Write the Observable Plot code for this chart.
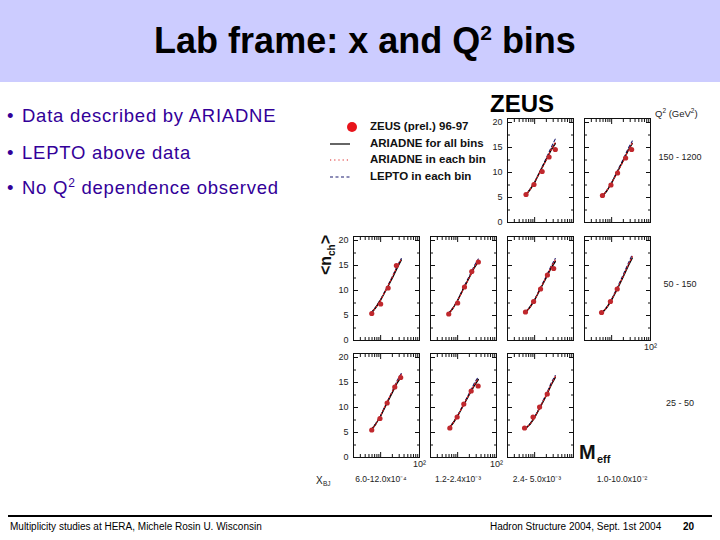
<!DOCTYPE html>
<html><head><meta charset="utf-8">
<script src="https://cdn.jsdelivr.net/npm/d3@7"></script>
<script src="https://cdn.jsdelivr.net/npm/@observablehq/plot@0.6"></script>
<style>
body{margin:0;background:#fff;}
#slide{position:relative;width:720px;height:540px;overflow:hidden;font-family:"Liberation Sans",Arial,sans-serif;background:#fff;}
.abs{position:absolute;white-space:nowrap;line-height:1;}
.panel{position:absolute;}
.bul{color:#330099;font-size:18.5px;letter-spacing:0.75px;}
.leg{font-size:11.5px;font-weight:bold;color:#111;}
.sm{font-size:9px;color:#222;}
</style></head><body><div id="slide">
<div class="abs" style="left:0;top:0;width:720px;height:82px;background:#ccccff"></div>
<div class="abs" style="left:0;width:730px;top:22.5px;text-align:center;font-size:36px;line-height:36px;font-weight:bold;color:#000">Lab frame: x and Q<span style="font-size:21px;position:relative;top:-13px">2</span> bins</div>

<div class="abs bul" style="left:7px;top:106.5px;">•</div>
<div class="abs bul" style="left:22px;top:106.5px;">Data described by ARIADNE</div>
<div class="abs bul" style="left:7px;top:143.5px;">•</div>
<div class="abs bul" style="left:22px;top:143.5px;">LEPTO above data</div>
<div class="abs bul" style="left:7px;top:178.5px;">•</div>
<div class="abs bul" style="left:22px;top:178.5px;">No Q<span style="font-size:12px;position:relative;top:-7px">2</span> dependence observed</div>

<div class="abs" style="left:490px;top:91.7px;font-size:24px;font-weight:bold;color:#000">ZEUS</div>
<svg class="abs" style="left:320px;top:115px" width="40" height="75">
  <circle cx="32" cy="12" r="5" fill="#e8141b"/>
  <line x1="10" x2="30" y1="29" y2="29" stroke="#000" stroke-width="1.2"/>
  <line x1="10" x2="30" y1="45" y2="45" stroke="#d22" stroke-width="1.2" stroke-dasharray="1.2,3"/>
  <line x1="10" x2="32" y1="62" y2="62" stroke="#1c1c70" stroke-width="1.1" stroke-dasharray="3,2.5"/>
</svg>
<div class="abs leg" style="left:370px;top:121.3px;">ZEUS (prel.) 96-97</div>
<div class="abs leg" style="left:370px;top:138.3px;">ARIADNE for all bins</div>
<div class="abs leg" style="left:370px;top:154.3px;">ARIADNE in each bin</div>
<div class="abs leg" style="left:370px;top:171.3px;">LEPTO in each bin</div>

<div class="abs" style="left:655px;top:108.5px;font-size:9.5px;color:#222;">Q<span style="font-size:6.5px;position:relative;top:-4px">2</span> (GeV<span style="font-size:6.5px;position:relative;top:-4px">2</span>)</div>
<div id="q2labels"></div>
<div id="xlabels"></div>

<div class="abs" style="left:326px;top:255px;transform:translate(-50%,-50%) rotate(-90deg);font-size:16px;font-weight:bold;color:#111;">&lt;n<span style="font-size:10px;position:relative;top:4px">ch</span>&gt;</div>
<div class="abs" style="left:579px;top:442px;font-size:20px;font-weight:bold;color:#111;">M</div>
<div class="abs" style="left:597px;top:454px;font-size:11px;font-weight:bold;color:#111;">eff</div>
<div class="abs" style="left:316px;top:475.5px;font-size:10px;color:#222;">X</div>
<div class="abs" style="left:323px;top:480.5px;font-size:6.5px;color:#222;">BJ</div>

<div class="abs" style="left:8px;top:515px;width:704px;height:2px;background:#000"></div>
<div class="abs" style="left:10px;top:521.5px;font-size:10px;color:#000;">Multiplicity studies at HERA, Michele Rosin U. Wisconsin</div>
<div class="abs" style="left:490px;top:521.5px;font-size:10px;color:#000;">Hadron Structure 2004, Sept. 1st 2004</div>
<div class="abs" style="left:683px;top:521.5px;font-size:10px;font-weight:bold;color:#000;">20</div>
</div>
<script>
// ---- data ----
const xBinLabels = ["6.0-12.0x10\u207B\u2074", "1.2-2.4x10\u207B\u00B3", "2.4- 5.0x10\u207B\u00B3", "1.0-10.0x10\u207B\u00B2"];
const q2BinLabels = ["150 - 1200", "50 - 150", "25 - 50"];
const panelRow = [0, 0, 1, 1, 1, 1, 2, 2, 2];
const panelCol = [2, 3, 0, 1, 2, 3, 0, 1, 2];
const zeusM = [
  [6.0, 9.6, 15.6, 23.5, 34.0],
  [5.8, 9.6, 14.2, 22.9, 32.7],
  [5.9, 10.0, 15.6, 25.4],
  [5.9, 10.0, 15.0, 23.1, 34.1],
  [5.8, 9.4, 14.2, 21.3, 30.9],
  [5.5, 9.3, 13.9],
  [5.9, 9.6, 14.7, 23.1, 32.8],
  [6.3, 9.7, 14.4, 22.3, 33.7],
  [5.5, 9.1, 13.4, 21.1]
];
const zeusN = [
  [5.6, 7.6, 10.2, 13.1, 14.6],
  [5.4, 7.5, 9.9, 12.9, 14.6],
  [5.4, 7.3, 10.5, 15.0],
  [5.3, 7.5, 10.7, 13.8, 15.7],
  [5.7, 7.8, 10.3, 13.1, 14.4],
  [5.6, 7.8, 10.3],
  [5.5, 7.8, 10.9, 14.1, 16.0],
  [5.9, 8.1, 10.7, 13.3, 14.3],
  [5.9, 8.1, 10.1, 12.7]
];
const modelM = [5.8, 7.5, 10, 14, 20, 27, 34];
const ariadneAll = [
  [5.4, 6.5, 8.0, 10.3, 12.6, 14.6, 15.8],
  [5.3, 6.3, 7.9, 10.1, 12.4, 14.5, 15.8],
  [5.5, 6.6, 8.1, 10.2, 12.5, 14.6, 16.1],
  [5.3, 6.4, 8.0, 10.3, 12.6, 14.6, 15.8],
  [5.6, 6.6, 8.1, 10.3, 12.6, 14.6, 15.8],
  [5.6, 6.6, 8.1, 10.3, 12.8, 15.0, 16.5],
  [5.5, 6.7, 8.3, 10.6, 13.0, 15.0, 16.2],
  [5.7, 6.8, 8.3, 10.4, 12.6, 14.4, 15.6],
  [5.8, 6.6, 8.0, 10.1, 12.4, 14.6, 16.0]
];
const ariadneEach = [
  [5.4, 6.5, 8.1, 10.2, 12.5, 14.7, 16.0],
  [5.3, 6.4, 7.9, 10.0, 12.3, 14.5, 15.9],
  [5.5, 6.6, 8.1, 10.3, 12.7, 14.9, 16.3],
  [5.3, 6.4, 8.0, 10.2, 12.6, 14.7, 16.0],
  [5.6, 6.6, 8.1, 10.4, 12.7, 14.8, 16.1],
  [5.6, 6.6, 8.2, 10.4, 12.9, 15.2, 16.8],
  [5.5, 6.7, 8.4, 10.8, 13.2, 15.3, 16.6],
  [5.7, 6.8, 8.3, 10.5, 12.7, 14.6, 15.8],
  [5.8, 6.6, 8.0, 10.2, 12.5, 14.7, 16.2]
];
const lepto = [
  [5.5, 6.6, 8.1, 10.4, 12.9, 15.1, 16.7],
  [5.3, 6.4, 8.0, 10.3, 12.7, 14.9, 16.3],
  [5.6, 6.7, 8.2, 10.4, 12.8, 15.0, 16.4],
  [5.4, 6.5, 8.1, 10.5, 12.9, 15.0, 16.3],
  [5.7, 6.7, 8.2, 10.5, 12.9, 15.0, 16.4],
  [5.6, 6.7, 8.3, 10.6, 13.2, 15.5, 17.2],
  [5.6, 6.8, 8.4, 10.8, 13.3, 15.5, 16.8],
  [5.8, 6.9, 8.4, 10.6, 12.9, 14.9, 16.1],
  [5.8, 6.7, 8.1, 10.3, 12.7, 15.0, 16.4]
];
const yTicks = [0, 5, 10, 15, 20];
const yMinorTicks = [2.5, 7.5, 12.5, 17.5];
const xMajorTicks = [10, 100];
const xMinorTicks = [3, 4, 5, 6, 7, 8, 9, 20, 30, 40, 50, 60, 70, 80, 90];

// ---- layout ----
const colLeft = [353, 430, 507, 584];
const rowTop = [118, 236, 353];
const FW = 66, FH = 104, ML = 24, MT = 6, MB = 16;
const slide = document.getElementById("slide");
const blank = () => "";

for (let p = 0; p < panelRow.length; p++) {
  const r = panelRow[p], c = panelCol[p];
  const pts = zeusM[p].map((m, i) => ({m, n: zeusN[p][i]}));
  const curve = arr => modelM.map((m, i) => ({m, n: arr[p][i]}));
  const leftmost = c === 0 || (r === 0 && c === 2);
  const showTen = (r === 1 && c === 3) || (r === 2 && c < 2);
  const marks = [
    Plot.axisX(xMinorTicks, {anchor: "bottom", tickSize: -3, tickFormat: blank, label: null, stroke: "#111"}),
    Plot.axisX(xMinorTicks, {anchor: "top", tickSize: -3, tickFormat: blank, label: null, stroke: "#111"}),
    Plot.axisX(xMajorTicks, {anchor: "bottom", tickSize: -5, tickFormat: blank, label: null, stroke: "#111"}),
    Plot.axisX(xMajorTicks, {anchor: "top", tickSize: -5, tickFormat: blank, label: null, stroke: "#111"}),
    Plot.axisY(yMinorTicks, {anchor: "left", tickSize: -3, tickFormat: blank, label: null, stroke: "#111"}),
    Plot.axisY(yMinorTicks, {anchor: "right", tickSize: -3, tickFormat: blank, label: null, stroke: "#111"}),
    Plot.axisY(yTicks, {anchor: "left", tickSize: -5, tickFormat: blank, label: null, stroke: "#111"}),
    Plot.axisY(yTicks, {anchor: "right", tickSize: -5, tickFormat: blank, label: null, stroke: "#111"}),
    Plot.frame({stroke: "#111", strokeWidth: 1}),
    Plot.line(curve(lepto), {x: "m", y: "n", stroke: "#1c1c70", strokeWidth: 1.1, strokeDasharray: "3,2.5"}),
    Plot.line(curve(ariadneAll), {x: "m", y: "n", stroke: "#000", strokeWidth: 1.4}),
    Plot.line(curve(ariadneEach), {x: "m", y: "n", stroke: "#d22", strokeWidth: 1.2, strokeDasharray: "1.2,2.5"}),
    Plot.dot(pts, {x: "m", y: "n", r: 2.6, fill: "#c0282d"})
  ];
  if (leftmost) marks.push(Plot.axisY(yTicks, {anchor: "left", tickSize: 0, tickPadding: 5, label: null, fill: "#222"}));
  if (showTen) marks.push(Plot.axisX([100], {anchor: "bottom", tickSize: 0, tickPadding: 3, tickFormat: () => "10\u00B2", label: null, fill: "#222"}));
  const svg = Plot.plot({
    width: FW + 2 * ML, height: FH + MT + MB,
    marginLeft: ML, marginRight: ML, marginTop: MT, marginBottom: MB,
    x: {type: "log", domain: [2, 100]},
    y: {domain: [0, 20.8]},
    style: {background: "transparent", overflow: "visible", fontFamily: "Liberation Sans, Arial, sans-serif", fontSize: "9px", color: "#222"},
    marks
  });
  svg.classList.add("panel");
  svg.style.left = (colLeft[c] - ML) + "px";
  svg.style.top = (rowTop[r] - MT) + "px";
  slide.appendChild(svg);
}

const q2Y = [152.9, 279.9, 398.9];
q2BinLabels.forEach((t, i) => {
  const d = document.createElement("div");
  d.className = "abs sm";
  d.style.left = "680px"; d.style.top = q2Y[i] + "px";
  d.style.transform = "translateX(-50%)";
  d.textContent = t;
  slide.appendChild(d);
});
const xLabX = [381, 458, 537, 622];
xBinLabels.forEach((t, i) => {
  const d = document.createElement("div");
  d.className = "abs";
  d.style.cssText += "font-size:8.5px;color:#222;";
  d.style.left = xLabX[i] + "px"; d.style.top = "474.8px";
  d.style.transform = "translateX(-50%)";
  d.textContent = t;
  slide.appendChild(d);
});
</script>
</body></html>
